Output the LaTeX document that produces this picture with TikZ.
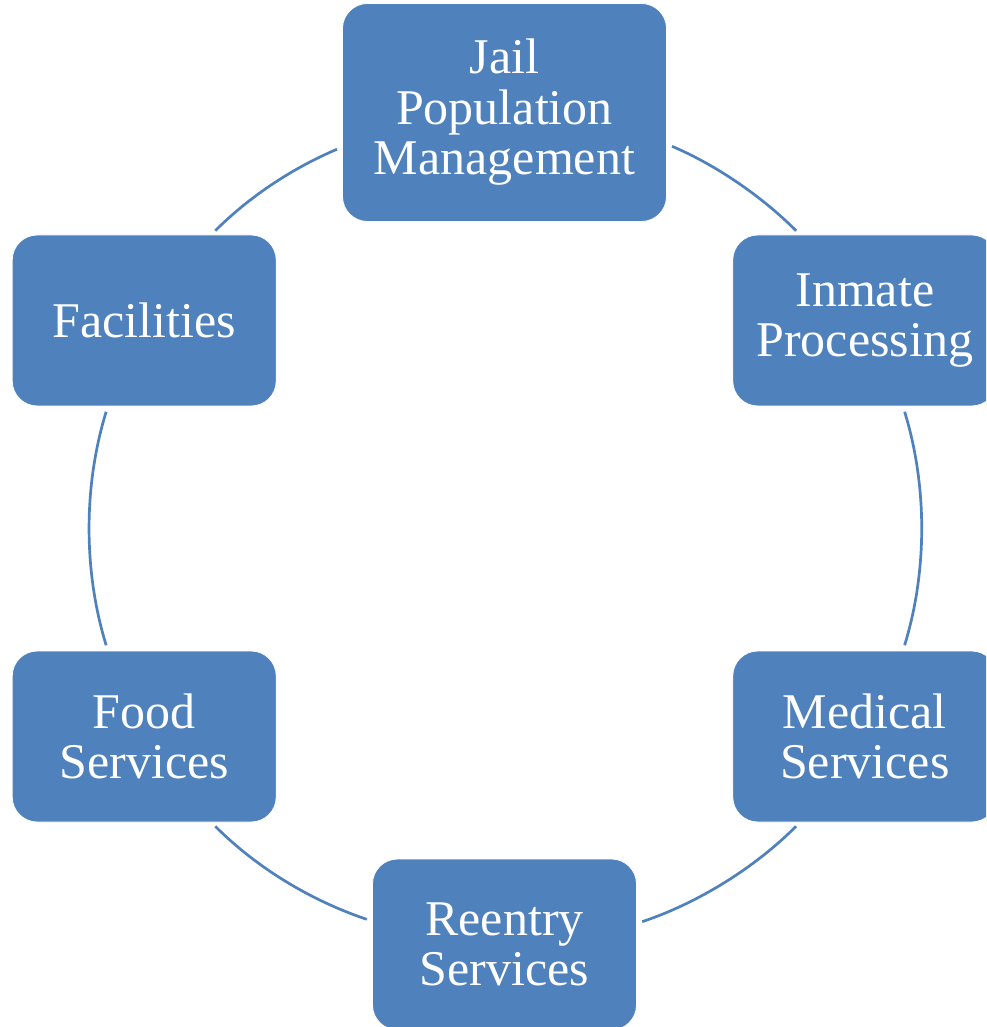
\documentclass[tikz,border=0pt]{standalone}
\usepackage{fontspec}
\setmainfont{Liberation Serif}
\definecolor{boxblue}{RGB}{79,129,189}
\begin{document}
\begin{tikzpicture}[x=1pt,y=1pt,
  stage/.style={rectangle, rounded corners=25pt, fill=boxblue, draw=white, line width=0.8pt,
    inner sep=0pt, outer sep=0pt, minimum width=264pt, minimum height=171pt,
    align=center, text=white, font=\fontsize{50pt}{50.5pt}\selectfont},
  bigstage/.style={stage, minimum width=324pt, minimum height=218pt},
  conn/.style={draw=boxblue, line width=2.7pt, shorten <=6pt, shorten >=6pt}]
\useasboundingbox (-504.5,-498.5) rectangle (481.5,528.5);
\clip (-504.5,-498.5) rectangle (481.5,528.5);
\coordinate (c) at (0,0);
\node[bigstage] (jail) at (90:416) {Jail\\Population\\Management};
\node[stage] (inmate) at (30:416) {Inmate\\Processing};
\node[stage] (medical) at (-30:416) {Medical\\Services};
\node[stage] (reentry) at (-90:416) {Reentry\\Services};
\node[stage] (food) at (-150:416) {Food\\Services};
\node[stage] (facilities) at (150:416) {Facilities};
% connectors: arcs of a circle of radius 416pt round c
\draw[conn] (jail.-11.45) .. controls +(-22.92:53.93) and +(134.87:53.93) .. (inmate.127.46);
\draw[conn] (inmate.-66.43) .. controls +(-72.88:83.49) and +(72.88:83.49) .. (medical.66.43);
\draw[conn] (medical.-127.46) .. controls +(-134.87:64.74) and +(18.5:64.74) .. (reentry.9.25);
\draw[conn] (reentry.170.75) .. controls +(161.5:64.74) and +(-45.13:64.74) .. (food.-52.54);
\draw[conn] (food.113.57) .. controls +(107.12:83.49) and +(-107.12:83.49) .. (facilities.-113.57);
\draw[conn] (facilities.52.54) .. controls +(45.13:53.93) and +(-157.08:53.93) .. (jail.-168.55);
\end{tikzpicture}
\end{document}
